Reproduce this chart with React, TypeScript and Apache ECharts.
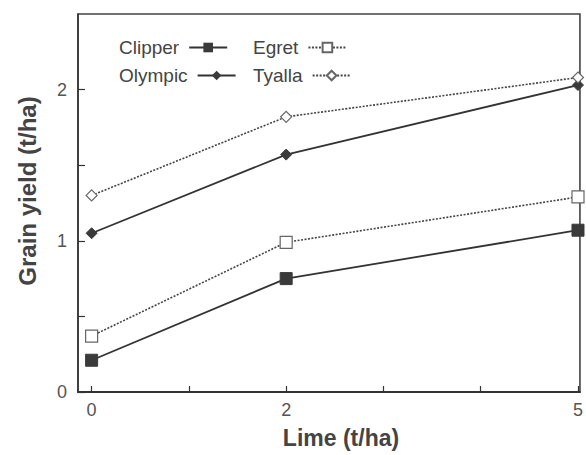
import React, { useEffect, useRef } from "react";
import * as echarts from "echarts";

const limeRates = [0, 2, 5];
const clipper = [0.21, 0.75, 1.07];
const egret = [0.37, 0.99, 1.29];
const olympic = [1.05, 1.57, 2.03];
const tyalla = [1.3, 1.82, 2.08];
const xTickValues = [0, 1, 2, 3, 4, 5];
const xLabelValues = [0, 2, 5];
const yTickValues = [0, 0.5, 1, 1.5, 2];
const yLabelValues = [0, 1, 2];

const FONT = "'Liberation Sans', Arial, Helvetica, sans-serif";
const INK = "#333";

function pairs(vals: number[]) {
  return limeRates.map((x, i) => [x, vals[i]]);
}

export default function App() {
  const ref = useRef<HTMLDivElement>(null);
  useEffect(() => {
    if (!ref.current) return;
    const chart = echarts.init(ref.current, null, { renderer: "svg" });
    const solid = { color: INK, width: 1.8, type: "solid" as const };
    const dotted = { color: "#444", width: 1.6, type: [2, 1.5] as any };
    const legendBase = {
      orient: "horizontal" as const,
      align: "right" as const,
      padding: 0,
      itemWidth: 38,
      itemHeight: 12,
      itemGap: 6,
      textStyle: { fontFamily: FONT, fontSize: 19, color: "#444", padding: [0, 5, 0, 0] },
    };
    chart.setOption({
      animation: false,
      backgroundColor: "#fff",
      grid: { left: 78, top: 14, width: 507, height: 378, show: true, borderColor: "#444", borderWidth: 1.6, containLabel: false },
      legend: [
        { ...legendBase, data: ["Clipper"], left: 119, top: 38 },
        { ...legendBase, data: ["Egret"], left: 253, top: 38 },
        { ...legendBase, data: ["Olympic"], left: 119, top: 66 },
        { ...legendBase, data: ["Tyalla"], left: 253, top: 66 },
      ],
      xAxis: {
        type: "value",
        min: -0.14,
        max: 5.02,
        splitLine: { show: false },
        axisLine: { show: true, onZero: false, lineStyle: { color: INK, width: 2 } },
        axisTick: { show: true, inside: true, length: 6, customValues: xTickValues, lineStyle: { color: INK, width: 1.2 } },
        axisLabel: { customValues: xLabelValues, margin: 9, fontFamily: FONT, fontSize: 18, color: "#555", hideOverlap: false },
      },
      yAxis: {
        type: "value",
        min: 0,
        max: 2.5,
        interval: 0.5,
        splitLine: { show: false },
        axisLine: { show: true, onZero: false, lineStyle: { color: INK, width: 1.5 } },
        axisTick: { show: true, inside: true, length: 7, customValues: yTickValues, lineStyle: { color: INK, width: 1.2 } },
        axisLabel: { customValues: yLabelValues, margin: 11, fontFamily: FONT, fontSize: 18, color: "#555" },
      },
      graphic: [
        {
          type: "text",
          x: 341,
          y: 438,
          style: { text: "Lime (t/ha)", font: `bold 23px ${FONT}`, fill: "#444", textAlign: "center", textVerticalAlign: "middle" },
        },
        {
          type: "text",
          x: 27,
          y: 191,
          rotation: Math.PI / 2,
          style: { text: "Grain yield (t/ha)", font: `bold 24px ${FONT}`, fill: "#444", textAlign: "center", textVerticalAlign: "middle" },
        },
      ],
      series: [
        {
          name: "Clipper",
          type: "line",
          data: pairs(clipper),
          symbol: "rect",
          symbolSize: 12,
          itemStyle: { color: "#3a3a3a", borderColor: "#3a3a3a" },
          lineStyle: solid,
        },
        {
          name: "Egret",
          type: "line",
          data: pairs(egret),
          symbol: "rect",
          symbolSize: 12,
          itemStyle: { color: "#fff", borderColor: "#666", borderWidth: 1.2 },
          lineStyle: dotted,
        },
        {
          name: "Olympic",
          type: "line",
          data: pairs(olympic),
          symbol: "diamond",
          symbolSize: 11,
          itemStyle: { color: "#3a3a3a", borderColor: "#3a3a3a" },
          lineStyle: solid,
        },
        {
          name: "Tyalla",
          type: "line",
          data: pairs(tyalla),
          symbol: "diamond",
          symbolSize: 11,
          itemStyle: { color: "#fff", borderColor: "#666", borderWidth: 1.2 },
          lineStyle: dotted,
        },
      ],
    });
    return () => chart.dispose();
  }, []);
  return (
    <div
      ref={ref}
      style={{ position: "absolute", left: 0, top: 0, width: 586, height: 455, background: "#fff" }}
    />
  );
}
